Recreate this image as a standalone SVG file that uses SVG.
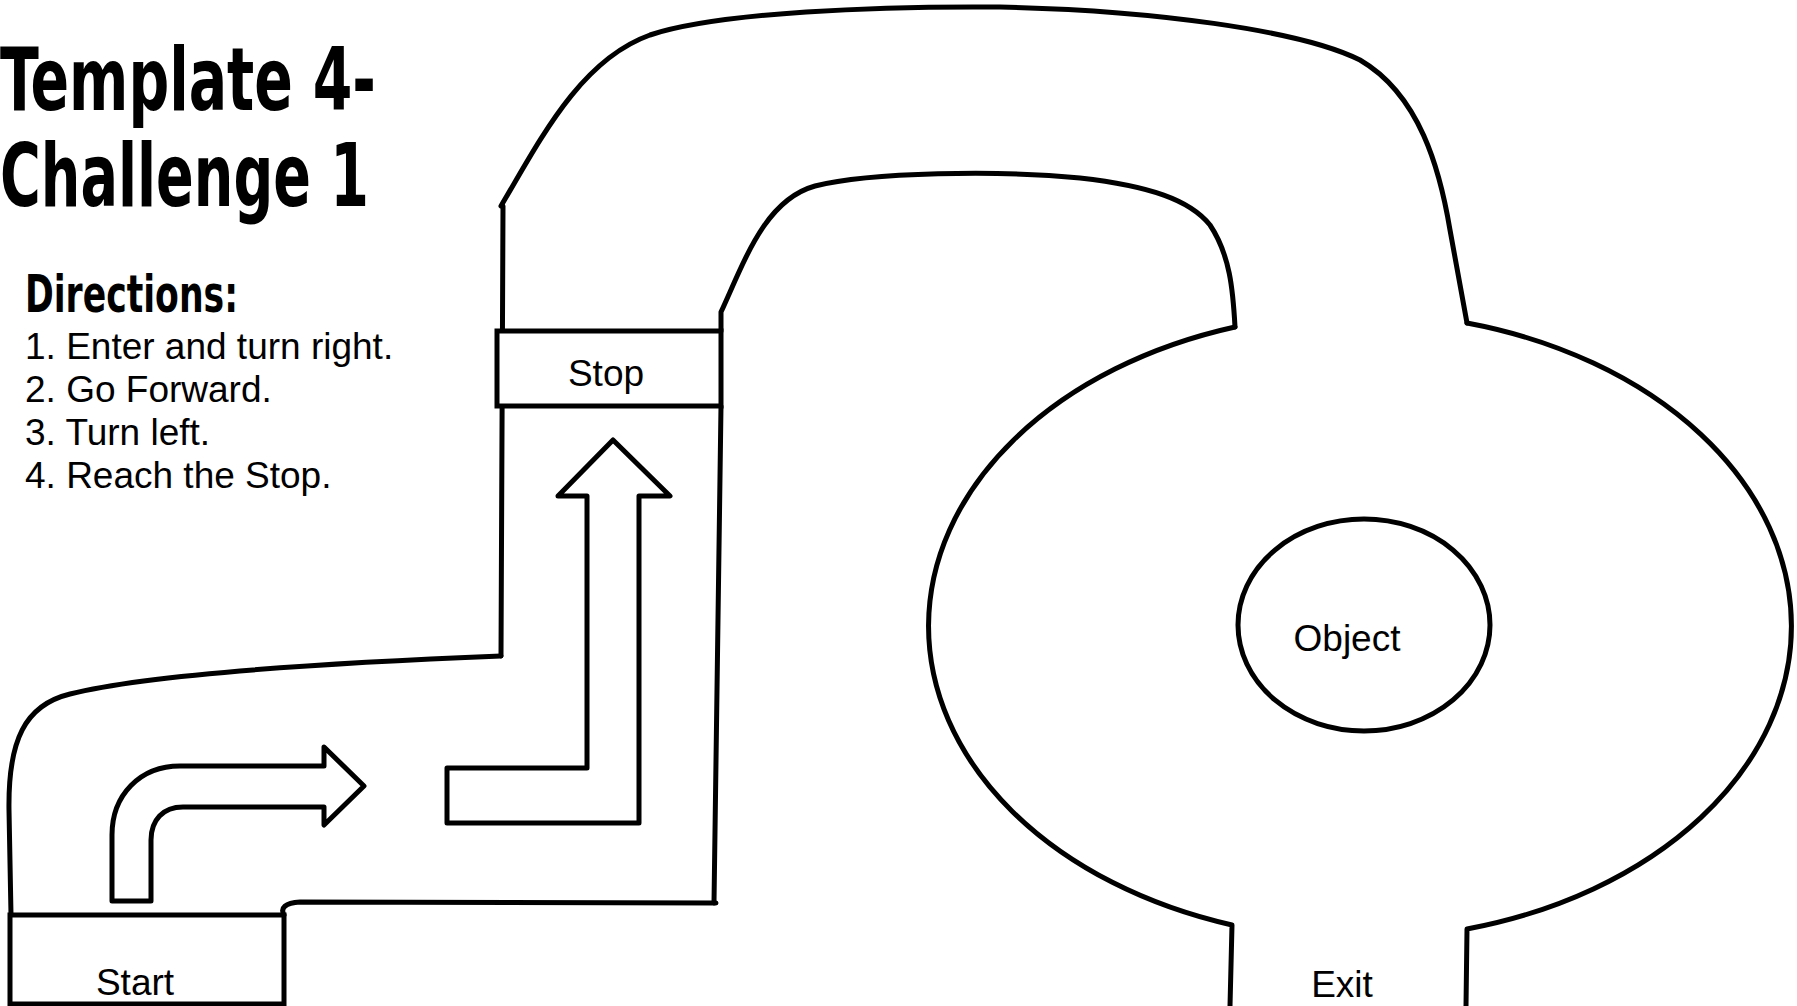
<svg xmlns="http://www.w3.org/2000/svg" width="1797" height="1006" viewBox="0 0 1797 1006">
<style>
.ln{fill:none;stroke:#000;stroke-width:5;stroke-linejoin:round;stroke-linecap:round}
.box{fill:#fff;stroke:#000;stroke-width:5}
.lbl{font-family:"Liberation Sans",Arial,sans-serif;font-size:37px;fill:#000}
.head{font-family:"Liberation Sans Narrow","DejaVu Sans Condensed","Liberation Sans",sans-serif;font-weight:bold;fill:#000}
</style>
<rect width="1797" height="1006" fill="#fff"/>
<g id="title">
<text class="head" x="0" y="110" font-size="88" textLength="376" lengthAdjust="spacingAndGlyphs">Template 4-</text>
<text class="head" x="0" y="206" font-size="88" textLength="369" lengthAdjust="spacingAndGlyphs">Challenge 1</text>
</g>
<g id="directions">
<text class="head" x="25" y="312" font-size="52" textLength="213" lengthAdjust="spacingAndGlyphs">Directions:</text>
<text class="lbl" x="25" y="359">1. Enter and turn right.</text>
<text class="lbl" x="25" y="402">2. Go Forward.</text>
<text class="lbl" x="25" y="445">3. Turn left.</text>
<text class="lbl" x="25" y="488">4. Reach the Stop.</text>
</g>
<g id="track">
<path class="ln" d="M 11 915 L 9 810 C 8 740 25 705 70 694 C 140 676 300 664 501 656"/>
<path class="ln" d="M 501 656 L 503 206"/>
<path class="ln" d="M 501 206 C 540 140 580 60 650 35 C 720 12 880 6 1000 7 C 1150 10 1300 30 1360 60 C 1420 95 1440 170 1450 230 L 1467 323"/>
<path class="ln" d="M 721 331 L 721 312 C 745 260 765 200 815 186 C 870 172 1000 170 1080 178 C 1150 186 1190 200 1210 225 C 1230 255 1233 290 1235 327"/>
<path class="ln" d="M 1235 327 A 433 313 0 0 0 1232 925 L 1230 1006"/>
<path class="ln" d="M 1467 323 A 433 313 0 0 1 1467 929 L 1466 1006"/>
<path class="ln" d="M 721 406 L 714 903"/>
<path class="ln" d="M 716 903 L 300 902 C 285 903 280 908 284 915"/>
</g>
<g id="start">
<rect class="box" x="10" y="915" width="274" height="89"/>
<text class="lbl" x="135" y="995" text-anchor="middle">Start</text>
</g>
<g id="stop">
<rect class="box" x="497" y="331" width="224" height="75"/>
<text class="lbl" x="606" y="386" text-anchor="middle">Stop</text>
</g>
<g id="object">
<ellipse class="ln" cx="1364" cy="625" rx="126" ry="106"/>
<text class="lbl" x="1347" y="651" text-anchor="middle">Object</text>
</g>
<g id="exit">
<text class="lbl" x="1342" y="997" text-anchor="middle">Exit</text>
</g>
<g id="arrows">
<path class="ln" d="M 112 901 L 112 835 C 112 795 140 766 180 766 L 324 766 L 324 747 L 364 786 L 324 825 L 324 807 L 183 807 C 163 807 151 820 151 840 L 151 901 Z"/>
<path class="ln" d="M 447 823 L 447 768 L 587 768 L 587 496 L 558 496 L 613 440 L 670 496 L 639 496 L 639 823 Z"/>
</g>
</svg>
